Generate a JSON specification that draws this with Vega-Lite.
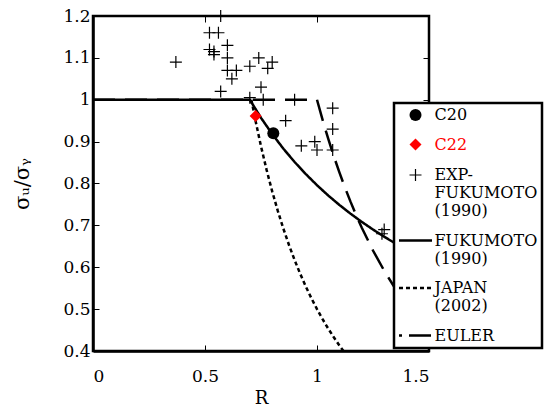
{
  "$schema": "https://vega.github.io/schema/vega-lite/v6.json",
  "width": 336,
  "height": 335,
  "autosize": {"type": "none"},
  "padding": {"left": 93, "top": 16, "right": 115, "bottom": 60},
  "background": "white",
  "config": {
    "view": {"stroke": "black", "strokeWidth": 2.5},
    "font": "DejaVu Serif",
    "axis": {
      "grid": false,
      "domainColor": "black",
      "domainWidth": 2.5,
      "tickColor": "black",
      "tickWidth": 1,
      "tickSize": -6,
      "labelFont": "DejaVu Serif",
      "labelFontSize": 17,
      "labelColor": "black",
      "titleFont": "DejaVu Serif",
      "titleFontWeight": "normal",
      "titleColor": "black"
    },
    "legend": {
      "labelFont": "DejaVu Serif",
      "strokeWidth": 2.5
    }
  },
  "datasets": {
    "curves": [
      {"series": "FUKUMOTO", "R": 0, "S": 1},
      {"series": "FUKUMOTO", "R": 0.7, "S": 1},
      {"series": "FUKUMOTO", "R": 0.75, "S": 0.9568},
      {"series": "FUKUMOTO", "R": 0.8, "S": 0.9181},
      {"series": "FUKUMOTO", "R": 0.85, "S": 0.8831},
      {"series": "FUKUMOTO", "R": 0.9, "S": 0.8514},
      {"series": "FUKUMOTO", "R": 0.95, "S": 0.8225},
      {"series": "FUKUMOTO", "R": 1.0, "S": 0.7959},
      {"series": "FUKUMOTO", "R": 1.05, "S": 0.7714},
      {"series": "FUKUMOTO", "R": 1.1, "S": 0.7488},
      {"series": "FUKUMOTO", "R": 1.15, "S": 0.7278},
      {"series": "FUKUMOTO", "R": 1.2, "S": 0.7083},
      {"series": "FUKUMOTO", "R": 1.25, "S": 0.69},
      {"series": "FUKUMOTO", "R": 1.3, "S": 0.6729},
      {"series": "FUKUMOTO", "R": 1.35, "S": 0.6568},
      {"series": "FUKUMOTO", "R": 1.4, "S": 0.6417},
      {"series": "FUKUMOTO", "R": 1.45, "S": 0.6275},
      {"series": "FUKUMOTO", "R": 1.5, "S": 0.614},
      {"series": "JAPAN", "R": 0.7071, "S": 1.0},
      {"series": "JAPAN", "R": 0.725, "S": 0.9512},
      {"series": "JAPAN", "R": 0.75, "S": 0.8889},
      {"series": "JAPAN", "R": 0.775, "S": 0.8325},
      {"series": "JAPAN", "R": 0.8, "S": 0.7813},
      {"series": "JAPAN", "R": 0.825, "S": 0.7346},
      {"series": "JAPAN", "R": 0.85, "S": 0.692},
      {"series": "JAPAN", "R": 0.875, "S": 0.6531},
      {"series": "JAPAN", "R": 0.9, "S": 0.6173},
      {"series": "JAPAN", "R": 0.925, "S": 0.5844},
      {"series": "JAPAN", "R": 0.95, "S": 0.554},
      {"series": "JAPAN", "R": 0.975, "S": 0.526},
      {"series": "JAPAN", "R": 1.0, "S": 0.5},
      {"series": "JAPAN", "R": 1.025, "S": 0.4759},
      {"series": "JAPAN", "R": 1.05, "S": 0.4535},
      {"series": "JAPAN", "R": 1.075, "S": 0.4327},
      {"series": "JAPAN", "R": 1.1, "S": 0.4132},
      {"series": "JAPAN", "R": 1.118, "S": 0.4},
      {"series": "EULER", "R": 0, "S": 1},
      {"series": "EULER", "R": 1.0, "S": 1},
      {"series": "EULER", "R": 1.025, "S": 0.9518},
      {"series": "EULER", "R": 1.05, "S": 0.907},
      {"series": "EULER", "R": 1.075, "S": 0.8653},
      {"series": "EULER", "R": 1.1, "S": 0.8264},
      {"series": "EULER", "R": 1.125, "S": 0.7901},
      {"series": "EULER", "R": 1.15, "S": 0.7561},
      {"series": "EULER", "R": 1.175, "S": 0.7243},
      {"series": "EULER", "R": 1.2, "S": 0.6944},
      {"series": "EULER", "R": 1.25, "S": 0.64},
      {"series": "EULER", "R": 1.3, "S": 0.5917},
      {"series": "EULER", "R": 1.35, "S": 0.5487},
      {"series": "EULER", "R": 1.4, "S": 0.5102},
      {"series": "EULER", "R": 1.45, "S": 0.4756},
      {"series": "EULER", "R": 1.5, "S": 0.4444}
    ],
    "exp": [
      {"R": 0.37, "S": 1.09}, {"R": 0.57, "S": 1.2}, {"R": 0.52, "S": 1.16},
      {"R": 0.56, "S": 1.16}, {"R": 0.6, "S": 1.13}, {"R": 0.52, "S": 1.12},
      {"R": 0.54, "S": 1.115}, {"R": 0.54, "S": 1.108}, {"R": 0.6, "S": 1.1},
      {"R": 0.74, "S": 1.1}, {"R": 0.8, "S": 1.09}, {"R": 0.78, "S": 1.075},
      {"R": 0.7, "S": 1.08}, {"R": 0.6, "S": 1.07}, {"R": 0.64, "S": 1.07},
      {"R": 0.62, "S": 1.05}, {"R": 0.57, "S": 1.02}, {"R": 0.75, "S": 1.03},
      {"R": 0.76, "S": 1.0}, {"R": 0.7, "S": 1.005}, {"R": 0.9, "S": 1.0},
      {"R": 0.86, "S": 0.95}, {"R": 1.07, "S": 0.98}, {"R": 1.07, "S": 0.93},
      {"R": 0.93, "S": 0.89}, {"R": 0.99, "S": 0.9}, {"R": 1.0, "S": 0.88},
      {"R": 1.07, "S": 0.88}, {"R": 1.29, "S": 0.68}, {"R": 1.3, "S": 0.69}
    ],
    "specimens": [
      {"series": "C20", "R": 0.805, "S": 0.92},
      {"series": "C22", "R": 0.726, "S": 0.961}
    ]
  },
  "layer": [
    {
      "data": {"name": "curves"},
      "mark": {"type": "line", "color": "black", "strokeWidth": 2.5, "strokeCap": "butt", "clip": true},
      "encoding": {
        "x": {"field": "R", "type": "quantitative",
              "scale": {"domain": [0, 1.5], "nice": false, "zero": false},
              "axis": {"orient": "bottom", "values": [0, 0.5, 1, 1.5], "format": "~g", "labelPadding": 23, "title": "R", "titleFontSize": 18, "titlePadding": 5}},
        "y": {"field": "S", "type": "quantitative",
              "scale": {"domain": [0.4, 1.2], "nice": false, "zero": false},
              "axis": {"orient": "left", "values": [0.4, 0.5, 0.6, 0.7, 0.8, 0.9, 1, 1.1, 1.2], "format": "~g", "labelPadding": 9, "title": "σᵤ/σᵧ", "titleFontSize": 21, "titlePadding": 30}},
        "detail": {"field": "series"},
        "strokeDash": {"field": "series", "type": "nominal",
                       "scale": {"domain": ["FUKUMOTO", "JAPAN", "EULER"], "range": [[1, 0], [4, 3], [22, 10]]},
                       "legend": null}
      }
    },
    {
      "data": {"name": "exp"},
      "mark": {"type": "point", "shape": "M-1,0H1M0,-1V1", "filled": false, "stroke": "black", "strokeWidth": 1.2, "size": 144, "opacity": 1},
      "encoding": {
        "x": {"field": "R", "type": "quantitative",
              "axis": {"orient": "top", "values": [0.5, 1, 1.5], "labels": false, "domain": false, "title": null}},
        "y": {"field": "S", "type": "quantitative",
              "axis": {"orient": "right", "values": [0.4, 0.5, 0.6, 0.7, 0.8, 0.9, 1, 1.1, 1.2], "labels": false, "domain": false, "title": null}}
      }
    },
    {
      "data": {"name": "specimens"},
      "mark": {"type": "point", "filled": true, "size": 144, "opacity": 1, "strokeWidth": 0},
      "encoding": {
        "x": {"field": "R", "type": "quantitative", "axis": null},
        "y": {"field": "S", "type": "quantitative", "axis": null},
        "color": {"field": "series", "type": "nominal",
                  "scale": {"domain": ["C20", "C22"], "range": ["black", "red"]}, "legend": null},
        "shape": {"field": "series", "type": "nominal",
                  "scale": {"domain": ["C20", "C22", "EXP-|FUKUMOTO|(1990)", "FUKUMOTO|(1990)", "JAPAN|(2002)", "EULER"],
                            "range": ["circle", "diamond", "M-1,0H1M0,-1V1", "stroke", "stroke", "stroke"]},
                  "legend": {
                    "title": null,
                    "orient": "none",
                    "legendX": 301,
                    "legendY": 87,
                    "padding": 4,
                    "fillColor": "white",
                    "strokeColor": "black",
                    "rowPadding": 13.5,
                    "symbolOffset": 9.5,
                    "labelOffset": 11,
                    "labelFontSize": 16,
                    "labelLimit": 300,
                    "labelExpr": "split(datum.label, '|')",
                    "labelColor": {"expr": "datum.value === 'C22' ? 'red' : 'black'"},
                    "symbolOpacity": 1,
                    "symbolFillColor": {"expr": "datum.value === 'C20' ? 'black' : datum.value === 'C22' ? 'red' : 'transparent'"},
                    "symbolStrokeColor": {"expr": "datum.value === 'C22' ? 'red' : 'black'"},
                    "symbolStrokeWidth": {"expr": "(datum.value === 'C20' || datum.value === 'C22') ? 0 : datum.value === 'EXP-|FUKUMOTO|(1990)' ? 1.2 : 2.5"},
                    "symbolDash": {"expr": "datum.value === 'JAPAN|(2002)' ? [4, 3] : datum.value === 'EULER' ? [3, 7, 22, 7] : [1, 0]"},
                    "symbolSize": {"expr": "(datum.value === 'C20' || datum.value === 'C22' || datum.value === 'EXP-|FUKUMOTO|(1990)') ? 144 : 1089"}
                  }}
      }
    }
  ]
}
